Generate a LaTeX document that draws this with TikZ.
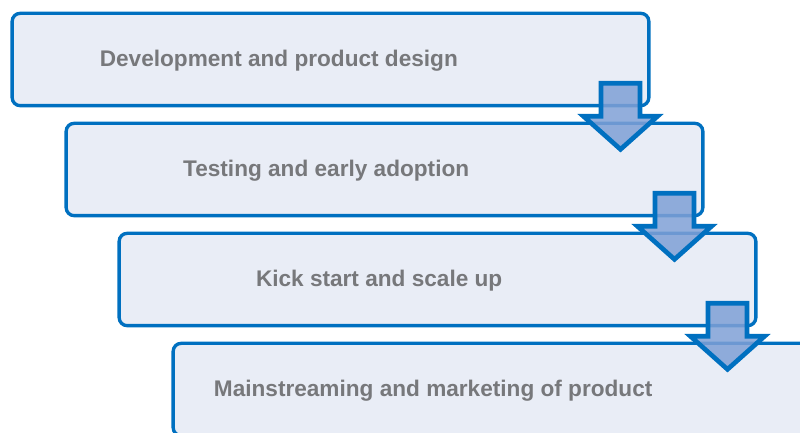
\documentclass[tikz,border=0pt]{standalone}
\usepackage{fontspec}
\setmainfont{Liberation Sans}
\definecolor{stageblue}{HTML}{0070C0}
\definecolor{stagefill}{HTML}{E9EDF6}
\definecolor{stagetext}{HTML}{77787B}
\definecolor{flowfill}{HTML}{7FA0D6}

\begin{document}
\begin{tikzpicture}[x=0.03cm, y=0.03cm,
  stagebox/.style={draw=stageblue, fill=stagefill, line width=0.1cm, rounded corners=0.24cm, minimum width=19.1cm, minimum height=2.77cm, inner sep=0pt},
  stagelabel/.style={anchor=base, text=stagetext, font=\fontsize{19.3}{22}\selectfont\bfseries, xshift=-1.75cm, yshift=-0.225cm},
  flow/.style={draw=stageblue, fill=flowfill, fill opacity=0.85, line width=0.14cm, line join=miter}]
\useasboundingbox (0,0) rectangle (800,433);
\clip (0,0) rectangle (800,433);

%Etapes
\node[stagebox] (s1) at (330.5,373.5) {};
\node[stagebox] (s2) at (384.5,263.5) {};
\node[stagebox] (s3) at (437.5,153.5) {};
\node[stagebox] (s4) at (491.5,43.5) {};

%Textes
\node[stagelabel, xshift=0.2cm] (t1) at (s1.center) {Development and product design};
\node[stagelabel] (t2) at (s2.center) {Testing and early adoption};
\node[stagelabel] (t3) at (s3.center) {Kick start and scale up};
\node[stagelabel] (t4) at (s4.center) {Mainstreaming and marketing of product};

%Fleches
\foreach \a in {s1,s2,s3}
  \draw[flow, shift={(\a.south east)}] (-49.5,24) -- (-10.5,24) -- (-10.5,-9) -- (7,-9) -- (-30,-42) -- (-67,-9) -- (-49.5,-9) -- cycle;

\end{tikzpicture}
\end{document}
